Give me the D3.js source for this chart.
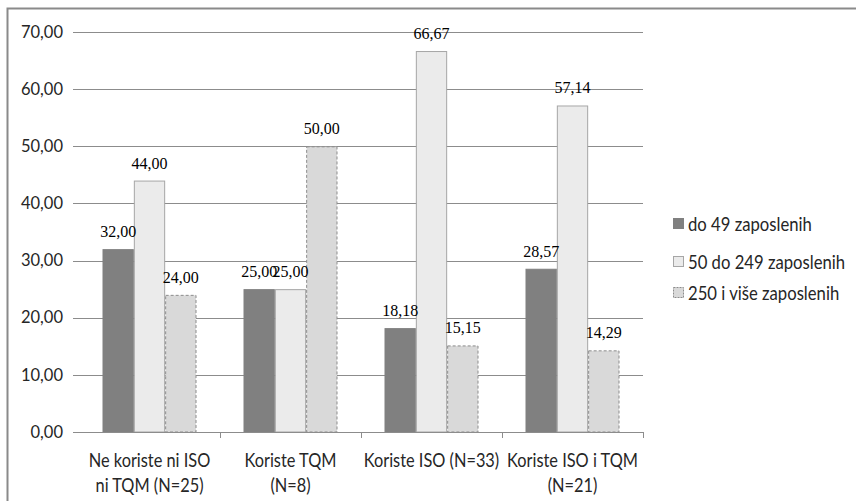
<!DOCTYPE html>
<html><head><meta charset="utf-8">
<script src="https://cdn.jsdelivr.net/npm/d3@7"></script>
<style>html,body{margin:0;padding:0;background:#fff;}svg{display:block;}</style>
</head><body>
<svg id="c" width="856" height="501"></svg>
<script>
const categories = [["Ne koriste ni ISO","ni TQM (N=25)"],["Koriste TQM","(N=8)"],["Koriste ISO (N=33)"],["Koriste ISO i TQM","(N=21)"]];
const seriesNames = ["do 49 zaposlenih","50 do 249 zaposlenih","250 i više zaposlenih"];
const s1 = [32.00, 25.00, 18.18, 28.57];
const s2 = [44.00, 25.00, 66.67, 57.14];
const s3 = [24.00, 50.00, 15.15, 14.29];
const yTicks = [0,10,20,30,40,50,60,70];

(function(){
const seriesVals = [s1,s2,s3];
const fills = ["#808080","#ebebeb","#d9d9d9"];
const strokes = ["#808080","#a6a6a6","#8c8c8c"];
const dashes = [null,null,"3,2"];
const sans = "Lato, 'Open Sans', sans-serif";

const loc = d3.formatLocale({decimal:",",thousands:".",grouping:[3],currency:["",""]});
const fmt = loc.format(".2f");

const svg = d3.select("#c");
svg.append("rect").attr("x",7.5).attr("y",8.5).attr("width",900).attr("height",600)
  .attr("fill","none").attr("stroke","#8a8a8a").attr("stroke-width",2);

const pl=79,pr=643,pt=32,pb=432;
const catKeys = categories.map((c,i)=>i);
const x0 = d3.scaleBand().domain(catKeys).range([pl,pr]).paddingInner(0).paddingOuter(0);
const bw = x0.bandwidth();
const gap = bw*1.5/4.5;
const x1 = d3.scaleBand().domain([0,1,2]).range([gap/2,bw-gap/2]).padding(0);
const y = d3.scaleLinear().domain([0,70]).range([pb,pt]);

const gridG = svg.append("g").attr("transform",`translate(${pl},0)`)
  .call(d3.axisLeft(y).tickValues(yTicks).tickSize(-(pr-pl)).tickFormat(""));
gridG.select(".domain").remove();
gridG.selectAll("line").attr("stroke","#8c8c8c").attr("stroke-width",1).attr("shape-rendering","crispEdges");
const yAx = svg.append("g").attr("transform",`translate(${pl},0)`)
  .call(d3.axisLeft(y).tickValues(yTicks).tickSize(6).tickPadding(10).tickFormat(fmt));
yAx.select(".domain").remove();
yAx.selectAll("line").attr("stroke","#8c8c8c").attr("shape-rendering","crispEdges");
yAx.selectAll("text").attr("font-family",sans).attr("font-size",16.5)
  .attr("fill","#262626");

const groups = svg.append("g").selectAll("g").data(catKeys).join("g")
  .attr("transform",d=>`translate(${x0(d)},0)`);
seriesVals.forEach((vals,si)=>{
  groups.append("rect")
    .attr("x",x1(si)+0.5).attr("width",x1.bandwidth()-1)
    .attr("y",d=>y(vals[d])+0.5).attr("height",d=>pb-y(vals[d])-0.5)
    .attr("fill",fills[si]).attr("stroke",strokes[si]).attr("stroke-width",1)
    .attr("stroke-dasharray",dashes[si]);
});
seriesVals.forEach((vals,si)=>{
  groups.append("text")
    .attr("x",x1(si)+x1.bandwidth()/2).attr("y",d=>y(vals[d])-12)
    .attr("text-anchor","middle")
    .attr("font-family","'Liberation Serif', 'Times New Roman', serif").attr("font-size",16)
    .attr("fill","#000").text(d=>fmt(vals[d]));
});

const xAx = svg.append("g").attr("transform",`translate(0,${pb})`)
  .call(d3.axisBottom(x0).tickSize(0).tickFormat(""));
xAx.select(".domain").attr("d",`M${pl-6},0.5H${pr}`).attr("stroke","#8c8c8c").attr("shape-rendering","crispEdges");
const bounds = catKeys.map(k=>x0(k)+bw);
svg.append("g").selectAll("line").data(bounds).join("line")
  .attr("x1",d=>Math.round(d)+0.5).attr("x2",d=>Math.round(d)+0.5)
  .attr("y1",pb).attr("y2",pb+6).attr("stroke","#8c8c8c");
const labG = svg.append("g").selectAll("text").data(catKeys).join("text")
  .attr("transform",d=>`translate(${x0(d)+bw/2},467) scale(0.88,1)`).attr("text-anchor","middle")
  .attr("font-family",sans).attr("font-size",18.6).attr("fill","#262626");
labG.each(function(d){
  const t=d3.select(this);
  categories[d].forEach((line,i)=>{
    t.append("tspan").attr("x",0).attr("dy",i===0?0:25).text(line);
  });
});

const legY = [231,269,300];
const leg = svg.append("g").selectAll("g").data(seriesNames).join("g")
  .attr("transform",(d,i)=>`translate(673,${legY[i]})`);
leg.append("rect").attr("x",0.5).attr("y",-12.5).attr("width",10).attr("height",10)
  .attr("fill",(d,i)=>fills[i]).attr("stroke",(d,i)=>strokes[i]).attr("stroke-dasharray",(d,i)=>i===2?"2,1":null);
leg.append("text").attr("transform","translate(15,0) scale(0.86,1)")
  .attr("font-family",sans).attr("font-size",19.4).attr("fill","#262626")
  .text(d=>d);
})();
</script>
</body></html>
